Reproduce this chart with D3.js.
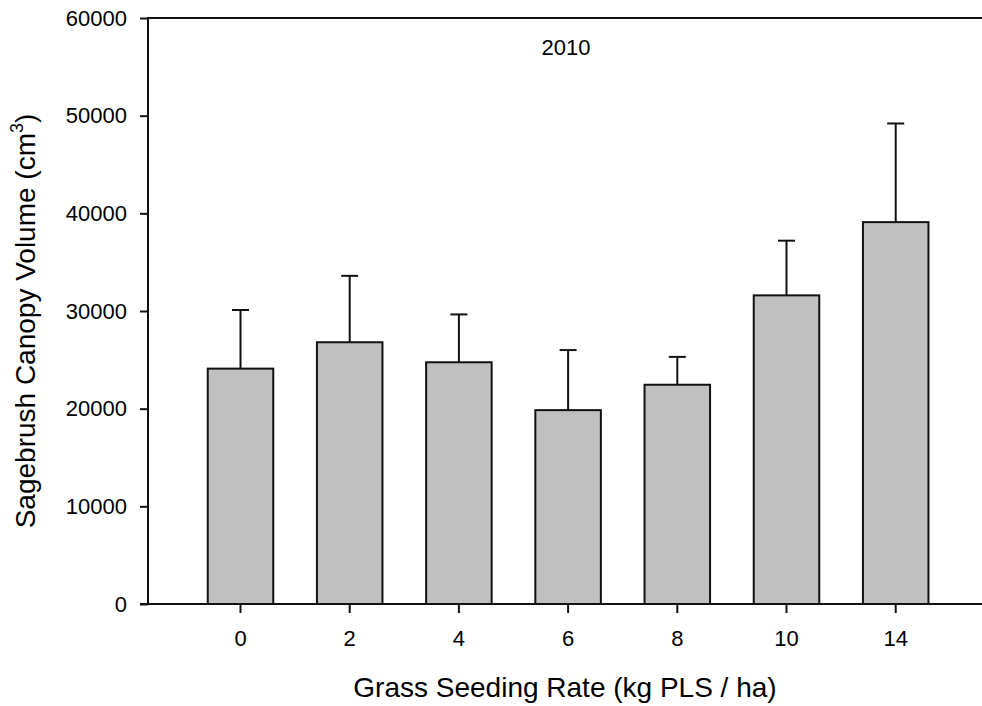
<!DOCTYPE html>
<html>
<head>
<meta charset="utf-8">
<script src="https://cdn.jsdelivr.net/npm/d3@7/dist/d3.min.js"></script>
<style>
  html, body { margin: 0; padding: 0; background: #fff; }
  svg { display: block; font-family: "Liberation Sans", Arial, sans-serif; }
</style>
</head>
<body>
<svg id="chart" width="982" height="706"></svg>
<script>
const categories = ["0", "2", "4", "6", "8", "10", "14"];
const means      = [24100, 26800, 24750, 19850, 22450, 31600, 39100];
const upperErr   = [30100, 33600, 29650, 26000, 25300, 37200, 49200];
const yTicks     = [0, 10000, 20000, 30000, 40000, 50000, 60000];
const titleText  = "2010";
const xTitle     = "Grass Seeding Rate (kg PLS / ha)";

(function () {
const svg = d3.select("#chart");
const pL = 148, pR = 982, pT = 18, pB = 604;
const ink = "#111";
const tickFont = 22, titleFont = 28;

const y = d3.scaleLinear().domain([0, 60000]).range([pB, pT]);
const x = d3.scaleBand().domain(categories)
  .range([185.9, 950.3]).paddingInner(0.4).paddingOuter(0.2);

// bars
svg.append("g").selectAll("rect").data(categories).join("rect")
  .attr("x", d => x(d))
  .attr("y", (d, i) => y(means[i]))
  .attr("width", x.bandwidth())
  .attr("height", (d, i) => y(0) - y(means[i]))
  .attr("fill", "#c0c0c0")
  .attr("stroke", ink)
  .attr("stroke-width", 2);

// error bars
const eg = svg.append("g").attr("stroke", ink).attr("stroke-width", 2);
categories.forEach((c, i) => {
  const cx = x(c) + x.bandwidth() / 2;
  eg.append("line").attr("x1", cx).attr("x2", cx)
    .attr("y1", y(means[i])).attr("y2", y(upperErr[i]));
  eg.append("line").attr("x1", cx - 8.5).attr("x2", cx + 8.5)
    .attr("y1", y(upperErr[i])).attr("y2", y(upperErr[i]));
});

// y axis
const yAxis = svg.append("g").attr("transform", `translate(${pL},0)`)
  .call(d3.axisLeft(y).tickValues(yTicks).tickFormat(d3.format("d")).tickSize(8).tickPadding(13));
yAxis.select(".domain").remove();
yAxis.selectAll(".tick line").attr("stroke", ink).attr("stroke-width", 2);
yAxis.selectAll(".tick text").attr("font-size", tickFont).attr("fill", "#000")
  .attr("font-family", "'Liberation Sans', Arial, sans-serif");

// x axis
const xAxis = svg.append("g").attr("transform", `translate(0,${pB})`)
  .call(d3.axisBottom(x).tickSize(9).tickPadding(17));
xAxis.select(".domain").remove();
xAxis.selectAll(".tick line").attr("stroke", ink).attr("stroke-width", 2);
xAxis.selectAll(".tick text").attr("font-size", tickFont).attr("fill", "#000")
  .attr("font-family", "'Liberation Sans', Arial, sans-serif");

// frame lines
svg.append("line").attr("x1", pL).attr("x2", pL).attr("y1", pT - 1).attr("y2", pB + 1)
  .attr("stroke", ink).attr("stroke-width", 2);
svg.append("line").attr("x1", pL - 8).attr("x2", pR).attr("y1", pB).attr("y2", pB)
  .attr("stroke", ink).attr("stroke-width", 2);
svg.append("line").attr("x1", pL).attr("x2", pR).attr("y1", pT).attr("y2", pT)
  .attr("stroke", ink).attr("stroke-width", 2);

// title
svg.append("text").attr("x", 566).attr("y", 55).attr("text-anchor", "middle")
  .attr("font-size", tickFont).text(titleText);

// x title
svg.append("text").attr("x", (pL + pR) / 2).attr("y", 697).attr("text-anchor", "middle")
  .attr("font-size", titleFont).text(xTitle);

// y title
const yt = svg.append("text")
  .attr("transform", `translate(35,${(pT + pB) / 2 + 10}) rotate(-90)`)
  .attr("text-anchor", "middle").attr("font-size", titleFont);
yt.append("tspan").text("Sagebrush Canopy Volume (cm");
yt.append("tspan").attr("font-size", 18).attr("dy", -12).text("3");
yt.append("tspan").attr("dy", 12).text(")");
})();
</script>
</body>
</html>
